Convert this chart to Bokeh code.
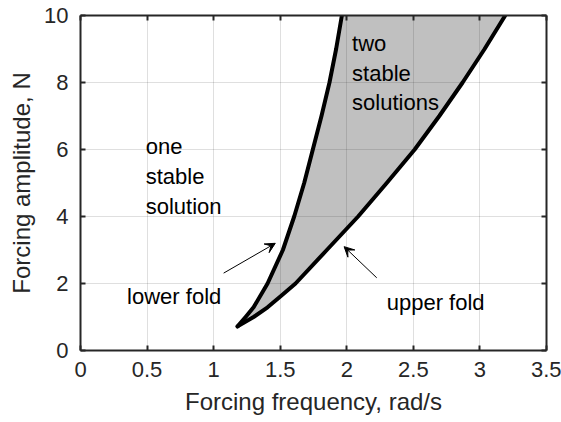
from bokeh.plotting import figure
from bokeh.models import LinearAxis, Label, Arrow, VeeHead, Range1d, FixedTicker
from bokeh.embed import file_html
from bokeh.resources import INLINE

# --- data ---
lower_fold_x = [1.18, 1.24, 1.30, 1.405, 1.52, 1.605, 1.68, 1.745, 1.81, 1.87, 1.92, 1.963]
lower_fold_y = [0.72, 1.0, 1.29, 2.0, 3.0, 4.0, 5.0, 6.0, 7.0, 8.0, 9.0, 10.0]
upper_fold_x = [1.18, 1.30, 1.405, 1.51, 1.615, 1.85, 2.085, 2.30, 2.51, 2.695, 2.87, 3.035, 3.19]
upper_fold_y = [0.72, 1.0, 1.29, 1.64, 2.0, 3.0, 4.0, 5.0, 6.0, 7.0, 8.0, 9.0, 10.0]

x_ticks = [0, 0.5, 1, 1.5, 2, 2.5, 3, 3.5]
x_tick_labels = ["0", "0.5", "1", "1.5", "2", "2.5", "3", "3.5"]
y_ticks = [0, 2, 4, 6, 8, 10]
y_tick_labels = ["0", "2", "4", "6", "8", "10"]

FONT = "Liberation Sans"
AX = "#262626"

p = figure(width=561, height=422, output_backend="svg", toolbar_location=None,
           x_range=Range1d(0, 3.5), y_range=Range1d(0, 10),
           min_border_left=80, min_border_right=15, min_border_top=15, min_border_bottom=72)
p.outline_line_color = None
p.background_fill_color = "white"
p.border_fill_color = "white"

# shaded bistable region
px = lower_fold_x + upper_fold_x[::-1]
py = lower_fold_y + upper_fold_y[::-1]
patch = p.patch(px, py, fill_color="#c0c0c0", line_color=None)
patch.level = "image"

p.line(lower_fold_x, lower_fold_y, line_color="black", line_width=4, line_join="round", line_cap="round")
p.line(upper_fold_x, upper_fold_y, line_color="black", line_width=4, line_join="round", line_cap="round")

for g in (p.xgrid, p.ygrid):
    g.grid_line_color = AX
    g.grid_line_alpha = 0.15
    g.grid_line_width = 1
p.xgrid.ticker = FixedTicker(ticks=x_ticks)
p.ygrid.ticker = FixedTicker(ticks=y_ticks)

def style_axis(ax, labels, ticks, show):
    ax.ticker = FixedTicker(ticks=ticks)
    ax.axis_line_color = AX
    ax.axis_line_width = 2
    ax.major_tick_line_color = AX
    ax.major_tick_line_width = 2
    ax.major_tick_in = 5
    ax.major_tick_out = 0
    ax.minor_tick_line_color = None
    ax.major_label_text_font = FONT
    ax.major_label_text_color = AX
    ax.major_label_text_font_size = "22px"
    ax.axis_label_text_font = FONT
    ax.axis_label_text_font_style = "normal"
    ax.axis_label_text_color = AX
    ax.axis_label_text_font_size = "24px"
    if show:
        ax.major_label_overrides = {t: l for t, l in zip(ticks, labels)}
    else:
        ax.major_label_overrides = {t: "" for t in ticks}
        ax.major_label_standoff = 0

xa = p.xaxis[0]
ya = p.yaxis[0]
style_axis(xa, x_tick_labels, x_ticks, True)
style_axis(ya, y_tick_labels, y_ticks, True)
xa.axis_label = "Forcing frequency, rad/s"
ya.axis_label = "Forcing amplitude, N"
xa.major_label_standoff = 11
ya.major_label_standoff = 12
xa.axis_label_standoff = 8
ya.axis_label_standoff = 6

top = LinearAxis()
right = LinearAxis()
style_axis(top, x_tick_labels, x_ticks, False)
style_axis(right, y_tick_labels, y_ticks, False)
p.add_layout(top, "above")
p.add_layout(right, "right")

def lab(x, y, t):
    p.add_layout(Label(x=x, y=y, text=t, text_font=FONT, text_font_size="22px",
                       text_color="black", text_baseline="alphabetic", text_align="left"))

lab(0.49, 6.10, "one")
lab(0.49, 5.20, "stable")
lab(0.49, 4.31, "solution")
lab(2.04, 9.17, "two")
lab(2.04, 8.28, "stable")
lab(2.04, 7.41, "solutions")
lab(0.35, 1.62, "lower fold")
lab(2.30, 1.44, "upper fold")

p.add_layout(Arrow(end=VeeHead(size=10, fill_color="black", line_color="black", line_width=1),
                   x_start=1.075, y_start=2.31, x_end=1.463, y_end=3.20,
                   line_color="black", line_width=1))
p.add_layout(Arrow(end=VeeHead(size=10, fill_color="black", line_color="black", line_width=1),
                   x_start=2.225, y_start=2.17, x_end=1.98, y_end=3.10,
                   line_color="black", line_width=1))

open("out.html", "w").write(file_html(p, INLINE))
